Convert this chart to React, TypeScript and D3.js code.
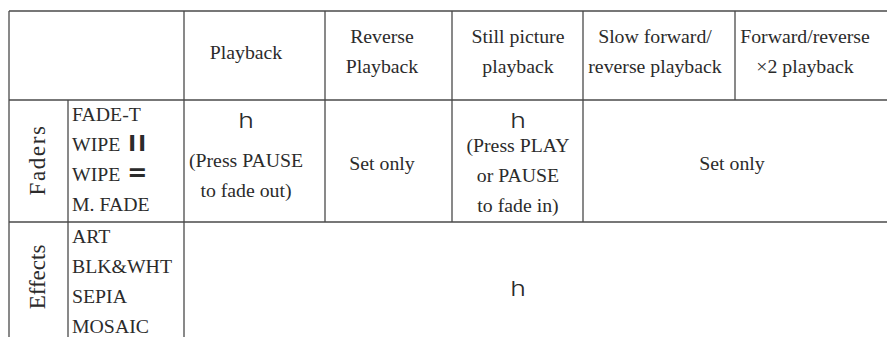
import React from 'react'
import * as d3 from 'd3'

// table content
const headers = [
  ['Playback'],
  ['Reverse', 'Playback'],
  ['Still picture', 'playback'],
  ['Slow forward/', 'reverse playback'],
  ['Forward/reverse', '\u00d72 playback'],
]
const groups = ['Faders', 'Effects']
const faderItems = ['FADE-T', 'WIPE', 'WIPE', 'M. FADE']
const faderMarks = ['', 'II', '=', '']
const effectItems = ['ART', 'BLK&WHT', 'SEPIA', 'MOSAIC']
const playbackNote = ['(Press PAUSE', 'to fade out)']
const stillNote = ['(Press PLAY', 'or PAUSE', 'to fade in)']
const setOnly = 'Set only'
const okMark = 'h'

const W = 887
const H = 337
const serif = "'Liberation Serif', 'DejaVu Serif', serif"
const sans = "'DejaVu Sans', sans-serif"
const thin = "Inter, 'Noto Sans', sans-serif"
const ink = '#2b2b2b'
const rule = '#4a4a4a'

// layout
const xEdges = [9, 68, 184, 325, 452, 583, 735, 887]
const yEdges = [11, 100, 222, 337]
const colCenter = [246, 382, 518, 655, 805]
const lineH = 30

export default function App () {
  const rowY = d3.scaleLinear().domain([0, 1]).range([0, lineH])
  const fs = 19.8

  const hLines = [
    { x1: xEdges[0], x2: W, y: yEdges[0] },
    { x1: xEdges[0], x2: W, y: yEdges[1] },
    { x1: xEdges[0], x2: W, y: yEdges[2] },
  ]
  const vLines = [
    { x: xEdges[0], y1: yEdges[0], y2: H },
    { x: xEdges[1], y1: yEdges[1], y2: H },
    { x: xEdges[2], y1: yEdges[0], y2: H },
    { x: xEdges[3], y1: yEdges[0], y2: yEdges[2] },
    { x: xEdges[4], y1: yEdges[0], y2: yEdges[2] },
    { x: xEdges[5], y1: yEdges[0], y2: yEdges[2] },
    { x: xEdges[6], y1: yEdges[0], y2: yEdges[1] },
  ]

  const centered = (lines, x, y0, key) => lines.map((t, i) => (
    <text key={key + i} x={x} y={y0 + rowY(i)} textAnchor='middle'>{t}</text>
  ))

  // the check-like mark, widened a bit like the original glyph
  const mark = (x, y, key) => (
    <text key={key} transform={`translate(${x},${y}) scale(1.3,1)`} textAnchor='middle'>{okMark}</text>
  )

  return (
    <svg width={W} height={H} viewBox={`0 0 ${W} ${H}`}
      style={{ position: 'fixed', left: 0, top: 0, background: '#fff' }}>
      <rect width={W} height={H} fill='#fff' />
      <g stroke={rule} strokeWidth={1.3}>
        {hLines.map((l, i) => <line key={'h' + i} x1={l.x1} x2={l.x2} y1={l.y} y2={l.y} />)}
        {vLines.map((l, i) => <line key={'v' + i} x1={l.x} x2={l.x} y1={l.y1} y2={l.y2} />)}
      </g>

      <g style={{ fontFamily: serif, fontSize: fs }} fill={ink}>
        {headers.map((lines, i) => centered(lines, colCenter[i], lines.length === 1 ? 59 : 42.5, 'hd' + i))}

        {/* group labels, rotated */}
        <text transform='translate(45,160) rotate(-90)' textAnchor='middle' style={{ fontSize: 23, letterSpacing: 1.6 }}>{groups[0]}</text>
        <text transform='translate(45,277) rotate(-90)' textAnchor='middle' style={{ fontSize: 23 }}>{groups[1]}</text>

        {faderItems.map((t, i) => (
          <text key={'f' + i} x={72} y={121 + rowY(i)}>
            {t}
            {faderMarks[i] === 'II' && (
              <tspan dx={8} style={{ fontFamily: sans, fontWeight: 'bold', fontSize: 21, letterSpacing: 2 }}>{faderMarks[i]}</tspan>
            )}
            {faderMarks[i] === '=' && (
              <tspan dx={7} style={{ fontFamily: sans, fontWeight: 'bold', fontSize: 24 }}>{faderMarks[i]}</tspan>
            )}
          </text>
        ))}
        {effectItems.map((t, i) => (
          <text key={'e' + i} x={72} y={243 + rowY(i)}>{t}</text>
        ))}

        {centered(playbackNote, colCenter[0], 167, 'pn')}
        <text x={colCenter[1]} y={169.5} textAnchor='middle'>{setOnly}</text>
        {centered(stillNote, colCenter[2], 152, 'sn')}
        <text x={(xEdges[5] + W) / 2 - 3} y={169.5} textAnchor='middle'>{setOnly}</text>
      </g>

      <g style={{ fontFamily: thin, fontSize: 20.5, fontWeight: 300 }} fill={ink}>
        {mark(colCenter[0], 128, 'm0')}
        {mark(colCenter[2], 128, 'm1')}
        {mark(colCenter[2], 296, 'm2')}
      </g>
    </svg>
  )
}
